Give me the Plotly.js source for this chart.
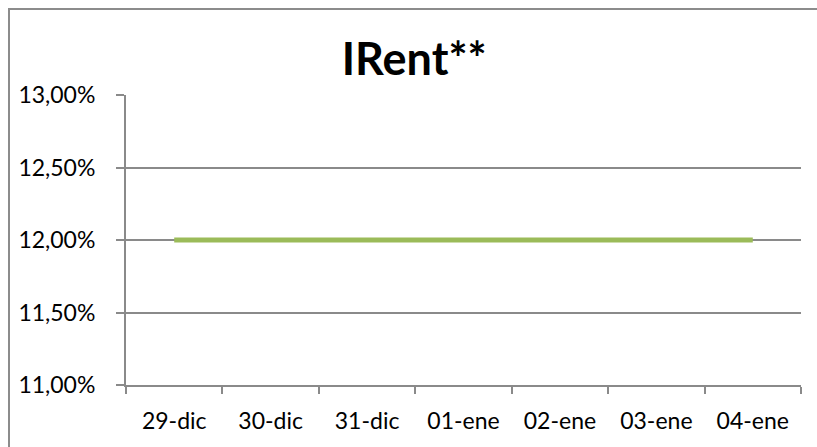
<!DOCTYPE html>
<html>
<head>
<meta charset="utf-8">
<script src="https://cdn.plot.ly/plotly-3.0.1.min.js"></script>
<style>
html,body{margin:0;padding:0;background:#fff;overflow:hidden;}
#chart{width:817px;height:447px;}
</style>
</head>
<body>
<div id="chart"></div>
<script>
var categories = ["29-dic", "30-dic", "31-dic", "01-ene", "02-ene", "03-ene", "04-ene"];
var irentValues = [0.12, 0.12, 0.12, 0.12, 0.12, 0.12, 0.12];
var yTickValues = [0.11, 0.115, 0.12, 0.125, 0.13];
var chartTitle = "IRent**";

var FONT = "Lato, 'Open Sans', sans-serif";
var GRID = "#8a8a8a";

var trace = {
  x: categories,
  y: irentValues,
  type: "scatter",
  mode: "lines",
  line: {color: "#9bbb59", width: 5},
  hoverinfo: "skip"
};

// plot area spans x 126..801 (675px), y 95..385 (290px)
function px(x) { return (x - 126) / 675; }
function py(y) { return (385 - y) / 290; }

var layout = {
  width: 817,
  height: 447,
  separators: ",.",
  paper_bgcolor: "#ffffff",
  plot_bgcolor: "#ffffff",
  margin: {l: 126, r: 16, t: 95, b: 62, pad: 0},
  showlegend: false,
  title: {
    text: "<b>" + chartTitle + "</b>",
    font: {family: FONT, size: 45, color: "#000"},
    xref: "container", x: 0.507, xanchor: "center",
    yref: "container", y: 1 - 75/447, yanchor: "bottom"
  },
  shapes: [
    {type: "line", xref: "paper", yref: "paper",
     x0: px(8), x1: px(817), y0: py(9), y1: py(9),
     line: {color: "#8c8c8c", width: 2}, layer: "above"},
    {type: "line", xref: "paper", yref: "paper",
     x0: px(9), x1: px(9), y0: py(8), y1: py(447),
     line: {color: "#8c8c8c", width: 2}, layer: "above"}
  ],
  xaxis: {
    type: "category",
    range: [-0.5, 6.5],
    showgrid: false,
    showline: true, linecolor: GRID, linewidth: 2,
    ticks: "outside", tickson: "boundaries", ticklen: 7, tickwidth: 2, tickcolor: GRID,
    tickfont: {family: FONT, size: 23, color: "#000"},
    ticklabelstandoff: 14,
    zeroline: false, fixedrange: true
  },
  yaxis: {
    range: [0.11, 0.13],
    tickvals: yTickValues,
    tickformat: ".2%",
    showgrid: true, gridcolor: GRID, gridwidth: 2,
    showline: true, linecolor: GRID, linewidth: 2,
    ticks: "outside", ticklen: 8, tickwidth: 2, tickcolor: GRID,
    tickfont: {family: FONT, size: 23, color: "#000"},
    ticklabelstandoff: 16,
    zeroline: false, fixedrange: true
  }
};

Plotly.newPlot("chart", [trace], layout, {displayModeBar: false, staticPlot: true});
</script>
</body>
</html>
